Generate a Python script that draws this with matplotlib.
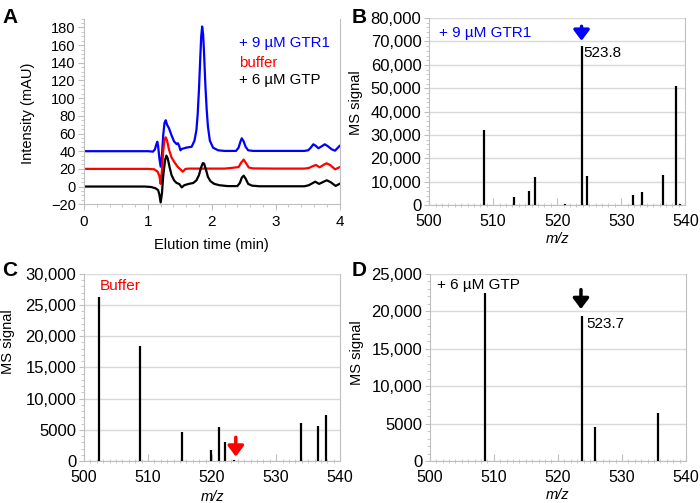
import matplotlib
matplotlib.use("Agg")
import matplotlib.pyplot as plt
from matplotlib.ticker import MultipleLocator, FuncFormatter

plt.rcParams['font.family'] = ['Liberation Sans', 'DejaVu Sans']
plt.rcParams['font.size'] = 10.5

# ---- panel A: chromatograms (time in min, intensity in mAU) ----
t_blue = [0, 1.0, 1.08, 1.11, 1.13, 1.147, 1.16, 1.18, 1.20, 1.22, 1.24, 1.26, 1.28, 1.30,
          1.33, 1.37, 1.41, 1.45, 1.47, 1.49, 1.51, 1.53, 1.60, 1.685, 1.73, 1.76, 1.78,
          1.80, 1.82, 1.835, 1.85, 1.865, 1.88, 1.90, 1.92, 1.94, 1.97, 2.02, 2.10, 2.2,
          2.38, 2.42, 2.45, 2.47, 2.50, 2.53, 2.57, 2.65, 3.45, 3.51, 3.55, 3.59, 3.63,
          3.67, 3.72, 3.77, 3.82, 3.88, 3.93, 4.0]
y_blue = [40, 40, 39.5, 42, 47, 50.7, 46, 32, 22.5, 35, 58, 72, 75, 70,
          66, 58, 51, 48, 49, 46, 41, 42.5, 44, 45, 52, 64, 82,
          110, 145, 170, 181, 172, 150, 115, 88, 68, 52, 44, 41, 40.3,
          40.3, 44, 51, 54.6, 51, 45, 41, 40.3, 40.3, 41, 44, 47.8, 46,
          43.3, 45.5, 47.8, 45.5, 42, 40.6, 45.9]

t_red = [0, 1.0, 1.10, 1.15, 1.18, 1.20, 1.22, 1.24, 1.26, 1.28, 1.30, 1.33, 1.37, 1.42,
         1.47, 1.51, 1.545, 1.59, 1.65, 2.2, 2.3, 2.42, 2.46, 2.50, 2.54, 2.58, 2.65, 3.0,
         3.45, 3.52, 3.58, 3.63, 3.69, 3.75, 3.80, 3.86, 3.93, 4.0]
y_red = [20, 20, 19.5, 17, 12, 3, 18, 40, 53, 55.7, 52, 42, 33, 27,
         22, 19.5, 16.8, 20, 20.3, 20.3, 21, 22, 27, 30.5, 26, 21.5, 20.5, 20.3,
         20.3, 21, 23, 24.4, 21.8, 24.5, 26.3, 24, 19.5, 21.8]

t_black = [0, 0.95, 1.05, 1.12, 1.16, 1.18, 1.20, 1.22, 1.24, 1.27, 1.29, 1.31, 1.34, 1.37,
           1.41, 1.45, 1.49, 1.53, 1.57, 1.64, 1.71, 1.76, 1.80, 1.83, 1.86, 1.88, 1.91,
           1.94, 1.98, 2.04, 2.12, 2.25, 2.40, 2.44, 2.47, 2.50, 2.53, 2.57, 2.63, 2.75,
           3.45, 3.52, 3.57, 3.62, 3.68, 3.74, 3.80, 3.86, 3.94, 4.0]
y_black = [0, 0, -0.5, -2, -4, -9, -18, -8, 12, 30, 35, 32, 22, 13,
           7, 4, 3, -1, 1.5, 3, 4, 7, 13, 21, 26.5, 26, 19,
           11, 6, 3, 1.5, 0.5, 0.5, 4, 10, 12.3, 9, 3, 1, 0.3,
           0.3, 1.5, 3.5, 5.5, 3, 5, 7.1, 5, 0.7, 3]

# ---- panels B-D: mass spectra (m/z, MS signal) ----
mz_b = [508.6, 513.3, 515.6, 516.5, 521.25, 523.8, 524.6, 525.3, 531.8, 533.2, 536.5, 538.6, 539.1]
sig_b = [32100, 3600, 6100, 12100, 500, 67900, 12400, 300, 4300, 5700, 13000, 51000, 400]

mz_c = [502.3, 508.7, 515.3, 519.8, 521.0, 522.0, 523.4, 533.85, 536.6, 537.8]
sig_c = [26300, 18500, 4660, 1800, 5400, 3000, 100, 6100, 5600, 7450]

mz_d = [508.6, 523.7, 525.8, 535.6]
sig_d = [22400, 19400, 4600, 6400]

GREY = '#bfbfbf'
GRID = '#d9d9d9'


def ms_fmt(v, pos):
    if v >= 10000:
        return f'{v:,.0f}'
    return f'{v:.0f}'


fig = plt.figure(figsize=(7, 5.03), dpi=100)

# panel A
axA = fig.add_axes([0.12, 0.594, 0.365, 0.369])
axA.plot(t_blue, y_blue, color='#0000ff', lw=1.6)
axA.plot(t_red, y_red, color='#ff0000', lw=1.6)
axA.plot(t_black, y_black, color='black', lw=1.6)
axA.set_xlim(0, 4)
axA.set_ylim(-20, 190)
axA.set_xticks([0, 1, 2, 3, 4])
axA.set_yticks(range(-20, 181, 20))
axA.set_yticklabels(['\u221220'] + [str(v) for v in range(0, 181, 20)])
axA.xaxis.set_minor_locator(MultipleLocator(0.2))
axA.yaxis.set_minor_locator(MultipleLocator(5))
axA.set_xlabel('Elution time (min)')
axA.set_ylabel('Intensity (mAU)')
axA.xaxis.set_label_coords(0.5, -0.183)
axA.yaxis.set_label_coords(-0.19, 0.49)
axA.text(2.42, 162, '+ 9 \u00b5M GTR1', color='#0000ff', va='center', fontsize=10.8)
axA.text(2.42, 140, 'buffer', color='#ff0000', va='center', fontsize=10.8)
axA.text(2.42, 120, '+ 6 \u00b5M GTP', color='black', va='center', fontsize=10.8)
axA.spines['top'].set_visible(False)
for s in ['left', 'bottom', 'right']:
    axA.spines[s].set_color(GREY)
axA.tick_params(which='both', direction='out', color=GREY, pad=2)
axA.tick_params(which='major', length=4)
axA.tick_params(which='minor', length=2.5)
axA.tick_params(axis='x', labelsize=11, pad=4)


def ms_axes(rect, mz, sig, ymax, ystep, yminor, ylab_x, ylab_y, xlab_y):
    ax = fig.add_axes(rect)
    ax.vlines(mz, 0, sig, color='black', lw=1.6)
    ax.set_xlim(500, 540)
    ax.set_ylim(0, ymax)
    ax.set_xticks(range(500, 541, 10))
    ax.set_yticks(range(0, ymax + 1, ystep))
    ax.yaxis.set_major_formatter(FuncFormatter(ms_fmt))
    ax.xaxis.set_minor_locator(MultipleLocator(1))
    ax.yaxis.set_minor_locator(MultipleLocator(yminor))
    ax.grid(axis='y', color=GRID, lw=1)
    ax.set_axisbelow(True)
    ax.spines['top'].set_visible(False)
    for s in ['left', 'bottom', 'right']:
        ax.spines[s].set_color(GREY)
    ax.tick_params(axis='x', which='major', direction='in', length=5, color=GREY, pad=6.5,
                   labelsize=11.5)
    ax.tick_params(axis='x', which='minor', direction='inout', length=3, color=GREY)
    ax.tick_params(axis='y', which='both', direction='out', color=GREY, pad=2, labelsize=12)
    ax.tick_params(axis='y', which='minor', length=2.5)
    ax.set_xlabel('m/z', style='italic')
    ax.set_ylabel('MS signal')
    ax.xaxis.set_label_coords(0.5, xlab_y)
    ax.yaxis.set_label_coords(ylab_x, ylab_y)
    return ax


axB = ms_axes([0.613, 0.592, 0.366, 0.372], mz_b, sig_b, 80000, 10000, 2000,
              -0.258, 0.55, -0.145)
axB.text(501.5, 73600, '+ 9 \u00b5M GTR1', color='#0000ff', va='center', fontsize=11)
axB.text(524.1, 65000, '523.8', va='center', fontsize=11)
axB.annotate('', xy=(523.8, 70300), xytext=(523.8, 76500),
             arrowprops=dict(arrowstyle='-|>,head_width=0.45,head_length=0.6',
                             color='#0000ff', lw=2.5, shrinkA=0, shrinkB=0))

axC = ms_axes([0.12, 0.0835, 0.366, 0.372], mz_c, sig_c, 30000, 5000, 1000,
              -0.27, 0.64, -0.155)
axC.text(502.5, 28100, 'Buffer', color='#ff0000', va='center', fontsize=11)
axC.annotate('', xy=(523.7, 700), xytext=(523.7, 3800),
             arrowprops=dict(arrowstyle='-|>,head_width=0.45,head_length=0.6',
                             color='#ff0000', lw=2.5, shrinkA=0, shrinkB=0))

axD = ms_axes([0.614, 0.0835, 0.366, 0.372], mz_d, sig_d, 25000, 5000, 1000,
              -0.258, 0.58, -0.145)
axD.text(501.1, 23500, '+ 6 \u00b5M GTP', va='center', fontsize=11)
axD.text(524.4, 18300, '523.7', va='center', fontsize=11)
axD.annotate('', xy=(523.6, 20300), xytext=(523.6, 22900),
             arrowprops=dict(arrowstyle='-|>,head_width=0.45,head_length=0.6',
                             color='black', lw=2.5, shrinkA=0, shrinkB=0))

for lbl, x, y in [('A', 0.003, 0.985), ('B', 0.503, 0.985), ('C', 0.003, 0.482), ('D', 0.503, 0.482)]:
    fig.text(x, y, lbl, fontsize=15, fontweight='bold', va='top', ha='left')

fig.savefig('out.png', dpi=100)
